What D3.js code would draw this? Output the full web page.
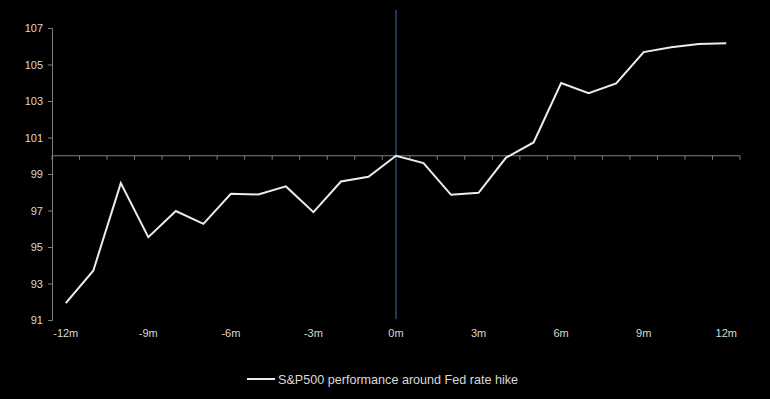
<!DOCTYPE html>
<html>
<head>
<meta charset="utf-8">
<script src="https://cdn.jsdelivr.net/npm/d3@7"></script>
<style>
  body { margin: 0; background: #000; }
  text { font-family: "Liberation Sans Narrow", "Arial Narrow", "Liberation Sans", Arial, sans-serif; }
</style>
</head>
<body>
<script>
// months around the hike
var months = d3.range(-12, 13);
var perf = [91.93, 93.70, 98.50, 95.54, 96.97, 96.27, 97.92, 97.88, 98.32, 96.91, 98.59, 98.85,
            100.0, 99.60, 97.86, 97.97, 99.90, 100.73, 103.98, 103.43, 103.96, 105.68, 105.95, 106.12, 106.17];
var yTicks = [91, 93, 95, 97, 99, 101, 103, 105, 107];
var xLabels = [-12, -9, -6, -3, 0, 3, 6, 9, 12];
var seriesName = 'S&P500 performance around Fed rate hike';

var width = 770, height = 399;

var svg = d3.select('body')
    .append('svg')
    .attr('width', width)
    .attr('height', height);

var x = d3.scalePoint()
    .domain(months)
    .range([52, 740])
    .padding(0.5);

var y = d3.scaleLinear()
    .domain([91, 107])
    .range([320, 28]);

// y axis
var yAxis = svg.append('g')
    .attr('transform', 'translate(52,0)')
    .call(d3.axisLeft(y).tickValues(yTicks).tickSize(4).tickPadding(5).tickFormat(d3.format('d')));
yAxis.select('.domain').attr('stroke', '#7f7f7f');
yAxis.selectAll('.tick line').attr('stroke', '#7f7f7f');
yAxis.selectAll('.tick text').attr('fill', '#d9d9d9').style('font-size', '11px');

// x axis through 100, ticks between categories
var step = x.step();
var between = d3.range(months.length + 1).map(i => 52 + i * step);
var xAxisG = svg.append('g');
xAxisG.append('line')
    .attr('x1', 52).attr('x2', 740)
    .attr('y1', y(100)).attr('y2', y(100))
    .attr('stroke', '#7f7f7f');
xAxisG.selectAll('line.tk')
    .data(between)
    .enter()
    .append('line')
    .attr('class', 'tk')
    .attr('x1', d => d).attr('x2', d => d)
    .attr('y1', y(100)).attr('y2', y(100) + 4)
    .attr('stroke', '#7f7f7f');

svg.selectAll('text.xl')
    .data(xLabels)
    .enter()
    .append('text')
    .attr('class', 'xl')
    .attr('x', d => x(d))
    .attr('y', 337)
    .attr('text-anchor', 'middle')
    .attr('fill', '#d9d9d9')
    .style('font-size', '11px')
    .text(d => d + 'm');

// rate hike marker
svg.append('line')
    .attr('x1', x(0)).attr('x2', x(0))
    .attr('y1', 10).attr('y2', 319)
    .attr('stroke', '#1f4e79')
    .attr('stroke-width', 1.5);

// series
var line = d3.line()
    .x((d, i) => x(months[i]))
    .y(d => y(d));

svg.append('path')
    .datum(perf)
    .attr('d', line)
    .attr('fill', 'none')
    .attr('stroke', '#ececec')
    .attr('stroke-width', 2);

// legend
svg.append('line')
    .attr('x1', 247).attr('x2', 275)
    .attr('y1', 379).attr('y2', 379)
    .attr('stroke', '#ececec')
    .attr('stroke-width', 2);
svg.append('text')
    .attr('x', 278)
    .attr('y', 384)
    .attr('fill', '#d9d9d9')
    .style('font-size', '12.6px')
    .text(seriesName);
</script>
</body>
</html>
